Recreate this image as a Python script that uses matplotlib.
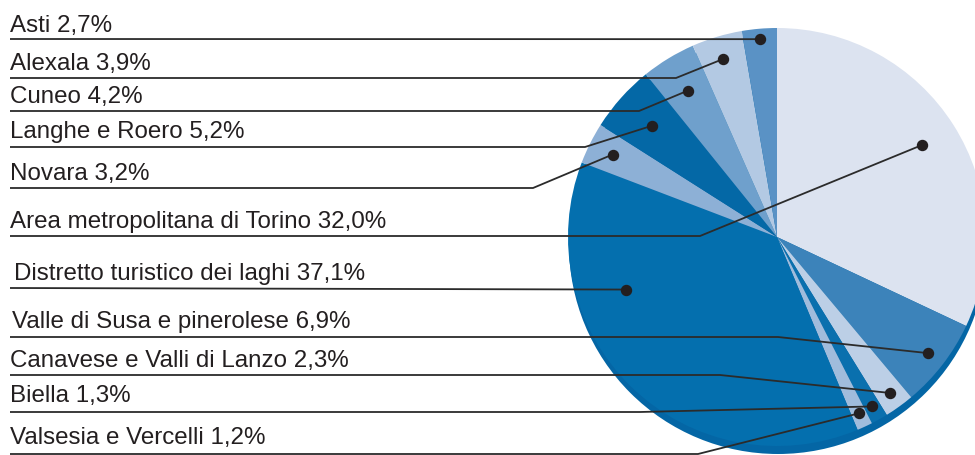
import numpy as np
import matplotlib
matplotlib.use("Agg")
import matplotlib.pyplot as plt
from matplotlib.patches import Circle

# quote per distretto turistico, in ordine orario a partire da ore 12
areas = ["Area metropolitana di Torino", "Valle di Susa e pinerolese",
         "Canavese e Valli di Lanzo", "Biella", "Valsesia e Vercelli",
         "Distretto turistico dei laghi", "Novara", "Langhe e Roero",
         "Cuneo", "Alexala", "Asti"]
shares = [32.0, 6.9, 2.3, 1.3, 1.2, 37.1, 3.2, 5.2, 4.2, 3.9, 2.7]
colors = ["#dce3f0", "#3c83ba", "#bccfe6", "#0a70ae", "#a0bcdc",
          "#046fae", "#8db0d6", "#0468a6", "#6fa0cc", "#b3c9e3", "#5a92c5"]

# layout etichette (pixel dall'alto): riga, gomito della linea, base del testo
line_y = [237, 338, 376, 413, 455, 289, 189, 148, 112, 79, 40]
elbow_x = [700, 778, 720, 640, 698, None, 533, 585, 639, 676, None]
text_base = [228, 328, 367, 402, 444, 280, 180, 138, 103, 70, 32]
text_x = [10, 12, 10, 10, 10, 14, 10, 10, 10, 10, 10]
dot_r = [0.82, 0.91, 0.92, 0.93, 0.93, 0.765, 0.88, 0.80, 0.82, 0.89, 0.95]
dot_frac = [0.5, 0.5, 0.5, 0.5, 0.5, 0.70, 0.5, 0.5, 0.5, 0.5, 0.5]

W, H = 975, 456
fig = plt.figure(figsize=(W / 100, H / 100), dpi=100)
ax = fig.add_axes([0, 0, 1, 1])

cx, cy, R = 777, H - 238, 209

# bordo "3d" sotto la torta
ax.add_patch(Circle((cx + 1, cy - 8), R, color="#0466a5", lw=0, zorder=0))

ax.pie(shares, colors=colors, startangle=90, counterclock=False,
       center=(cx, cy), radius=R, wedgeprops=dict(linewidth=0))

cum = np.concatenate([[0], np.cumsum(shares)]) / sum(shares) * 360
for i, (name, v) in enumerate(zip(areas, shares)):
    theta = np.radians(cum[i] + dot_frac[i] * (cum[i + 1] - cum[i]))
    dx = cx + dot_r[i] * R * np.sin(theta)
    dy = cy + dot_r[i] * R * np.cos(theta)
    ly = H - line_y[i]
    if elbow_x[i] is None:
        xs, ys = [10, dx], [ly, dy]
    else:
        xs, ys = [10, elbow_x[i], dx], [ly, ly, dy]
    ax.plot(xs, ys, color="#2b2b2b", lw=1.3, zorder=3, solid_capstyle="butt")
    ax.plot(dx, dy, "o", color="#231f20", ms=7.2, zorder=4)
    label = f"{name} {v:.1f}%".replace(".", ",")
    ax.text(text_x[i], H - text_base[i], label, va="baseline", ha="left",
            fontsize=17.4, family="Liberation Sans", color="#231f20")

ax.set_xlim(0, W)
ax.set_ylim(0, H)
ax.set_aspect("auto")
ax.axis("off")
fig.savefig("out.png", dpi=100)
